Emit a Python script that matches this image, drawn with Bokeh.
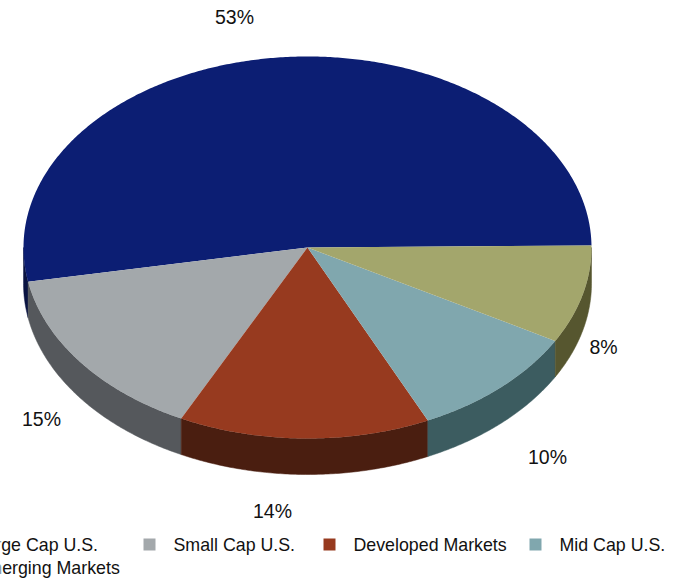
import numpy as np
from bokeh.plotting import figure
from bokeh.models import Range1d
from bokeh.core.properties import value
from bokeh.embed import file_html
from bokeh.resources import INLINE

categories = ["Large Cap U.S.", "Small Cap U.S.", "Developed Markets", "Mid Cap U.S.", "Emerging Markets"]
shares = [52.7, 14.8, 14.3, 9.9, 8.3]
share_labels = ["53%", "15%", "14%", "10%", "8%"]
top_colors = ["#0c1e73", "#a3a8ab", "#973a1f", "#80a7ae", "#a3a66c"]
side_colors = ["#0a1442", "#55585c", "#4a1e10", "#3c5c60", "#56562f"]

# layout
W, H = 685, 578
CX, CY, RX, RY, DEPTH = 307, 247, 284, 191, 36
START = 0.6
label_xy = [(234, 16), (41, 418), (272, 510), (547, 456), (603, 346)]
legend_text_xy = [(-25, 544), (173, 544), (353, 544), (559, 544), (-25, 567)]
FONT = value("Liberation Sans")


def rim(a0, a1, depth=0):
    t = np.radians(np.linspace(a0, a1, max(int(abs(a1 - a0) * 2), 2)))
    return CX + RX * np.cos(t), CY - RY * np.sin(t) + depth


p = figure(width=W, height=H, x_range=Range1d(0, W), y_range=Range1d(H, 0),
           toolbar_location=None, output_backend="svg", min_border=0,
           outline_line_color=None)
p.axis.visible = False
p.grid.visible = False
p.styles = {"margin-left": "0px", "margin-top": "0px"}

edges = START + np.concatenate([[0], np.cumsum(shares)]) * 3.6
top_order = list(zip(shares, edges[:-1], edges[1:], top_colors, side_colors))

# side walls (front half of the rim only)
for _, a0, a1, _, side in top_order:
    lo, hi = max(a0, 180), min(a1, 360)
    if hi > lo:
        x0, y0 = rim(lo, hi)
        x1, y1 = rim(hi, lo, DEPTH)
        p.patch(np.r_[x0, x1], np.r_[y0, y1], fill_color=side, line_color=side, line_width=0.5)

# top faces
for _, a0, a1, top, _ in top_order:
    x, y = rim(a0, a1)
    p.patch(np.r_[CX, x], np.r_[CY, y], fill_color=top, line_color=None)

# value labels
p.text([c[0] for c in label_xy], [c[1] for c in label_xy], text=share_labels,
       text_font=FONT, text_font_size="19.5px", text_color="#111111",
       text_align="center", text_baseline="middle")

# legend
p.text([c[0] for c in legend_text_xy], [c[1] for c in legend_text_xy], text=categories,
       text_font=FONT, text_font_size="17.8px", text_color="#111111",
       text_align="left", text_baseline="middle")
p.rect([c[0] - 24 for c in legend_text_xy], [c[1] for c in legend_text_xy], width=12, height=12,
       fill_color=top_colors, line_color=None)

open("out.html", "w").write(file_html(p, INLINE))
